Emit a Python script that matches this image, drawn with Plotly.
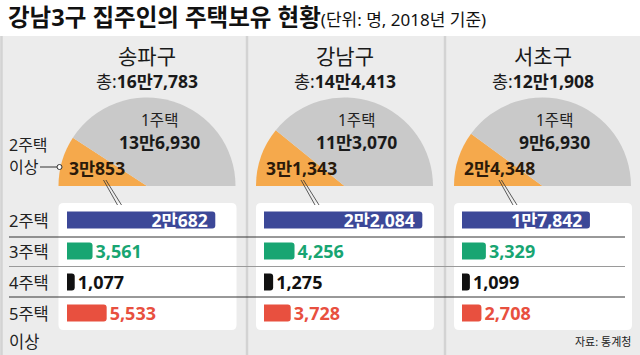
import plotly.graph_objects as go

W, H = 640, 355

# ---------------- data ----------------
districts = ["송파구", "강남구", "서초구"]
totals = [167783, 144413, 121908]
one_house = [136930, 113070, 96930]
multi_house = [30853, 31343, 24348]
row_cats = ["2주택", "3주택", "4주택", "5주택"]
two_house = [20682, 22084, 17842]
three_house = [3561, 4256, 3329]
four_house = [1077, 1275, 1099]
five_plus = [5533, 3728, 2708]

# ---------------- style ----------------
FONT = "Noto Sans, Noto Sans CJK KR"
C_ORANGE = "#f5a94c"
C_GRAY = "#c9c9c9"
C_NAVY = "#3c4898"
C_GREEN = "#18a572"
C_BLACK = "#111111"
C_RED = "#e8503f"
C_PANEL = "#ececec"
bar_colors = [C_NAVY, C_GREEN, C_BLACK, C_RED]
text_colors = ["#ffffff", C_GREEN, C_BLACK, C_RED]

centers = [147, 344.5, 542.5]   # semicircle centers (px)
R = 88.5                       # semicircle radius (px)
BASE_Y = 186                   # semicircle baseline (px)
bar_x0 = [67, 264, 462]         # bar origin (px)
XMAX = 24000
BAR_LEN = XMAX * 0.00717        # px for XMAX
ROW_TOP, ROW_H = 204.5, 31


def px(x):
    return x / W


def py(y):
    return 1 - y / H


def fmt(v):
    if v >= 10000:
        m, r = divmod(v, 10000)
        return f"{m}만{r:,}" if r else f"{m}만"
    return f"{v:,}"


fig = go.Figure()

# ---------------- semicircle pies ----------------
for i in range(3):
    cx = centers[i]
    vis = multi_house[i] + one_house[i]
    fig.add_trace(go.Pie(
        values=[multi_house[i], one_house[i], vis],
        marker=dict(colors=[C_ORANGE, C_GRAY, "rgba(0,0,0,0)"], line=dict(width=0)),
        sort=False, direction="clockwise", rotation=270,
        textinfo="none", hoverinfo="skip", showlegend=False,
        domain=dict(x=[px(cx - R), px(cx + R)], y=[py(BASE_Y + R), py(BASE_Y - R)]),
    ))

# ---------------- bars ----------------
ydom = [py(ROW_TOP + 4 * ROW_H), py(ROW_TOP)]
for i in range(3):
    vals = [two_house[i], three_house[i], four_house[i], five_plus[i]]
    sfx = "" if i == 0 else str(i + 1)
    labels = [f"<b>{fmt(v)}</b>" for v in vals]
    labels[0] = labels[0] + " "
    fig.add_trace(go.Bar(
        x=vals, y=row_cats, orientation="h",
        xaxis="x" + sfx, yaxis="y" + sfx,
        marker=dict(color=bar_colors, line=dict(width=0)),
        width=17 / ROW_H,
        text=labels,
        textposition=["inside", "outside", "outside", "outside"],
        insidetextanchor="end",
        textfont=dict(family=FONT, size=18, color=text_colors),
        insidetextfont=dict(family=FONT, size=17.5, color="#ffffff"),
        outsidetextfont=dict(family=FONT, size=18, color=text_colors),
        constraintext="none", cliponaxis=False,
        hoverinfo="skip", showlegend=False,
    ))
    x0 = bar_x0[i]
    fig.layout["xaxis" + sfx] = dict(domain=[px(x0), px(x0 + BAR_LEN)], range=[0, XMAX],
                                     visible=False, anchor="y" + sfx, fixedrange=True)
    fig.layout["yaxis" + sfx] = dict(domain=ydom, type="category", categoryorder="array",
                                     categoryarray=row_cats, range=[3.5, -0.5],
                                     visible=False, anchor="x" + sfx, fixedrange=True)

# ---------------- shapes ----------------
shapes = []
shapes.append(dict(type="rect", xref="paper", yref="paper", x0=0, x1=1, y0=py(H), y1=py(36),
                   fillcolor=C_PANEL, line=dict(width=0), layer="below"))
for xs in [1.5, 247, 445]:
    shapes.append(dict(type="line", xref="paper", yref="paper", x0=px(xs), x1=px(xs),
                       y0=py(H), y1=py(36), line=dict(color="#d3d3d3", width=2.5), layer="below"))


def rrect(x0, y0, x1, y1, r):
    X = lambda v: px(v)
    Y = lambda v: py(v)
    return (f"M {X(x0 + r)} {Y(y0)} L {X(x1 - r)} {Y(y0)} Q {X(x1)} {Y(y0)} {X(x1)} {Y(y0 + r)} "
            f"L {X(x1)} {Y(y1 - r)} Q {X(x1)} {Y(y1)} {X(x1 - r)} {Y(y1)} "
            f"L {X(x0 + r)} {Y(y1)} Q {X(x0)} {Y(y1)} {X(x0)} {Y(y1 - r)} "
            f"L {X(x0)} {Y(y0 + r)} Q {X(x0)} {Y(y0)} {X(x0 + r)} {Y(y0)} Z")


for i in range(3):
    cx = centers[i]
    shapes.append(dict(type="path", xref="paper", yref="paper",
                       path=rrect(cx - R, 203, cx + R + 1, 330, 5),
                       fillcolor="#ffffff", line=dict(width=0), layer="below"))

for y, col in [(237, "#333333"), (266.5, "#9a9a9a"), (297, "#333333")]:
    shapes.append(dict(type="line", xref="paper", yref="paper", x0=px(9), x1=px(625),
                       y0=py(y), y1=py(y), line=dict(color=col, width=1), layer="below"))

# leader lines from wedge label to 2주택 bar
for i in range(3):
    lx = centers[i] - R + 45
    for d in (0, 4):
        shapes.append(dict(type="line", xref="paper", yref="paper",
                           x0=px(lx + d * 0.6), y0=py(180), x1=px(lx + 14 + d), y1=py(205),
                           line=dict(color="#333333", width=0.8), layer="above"))

# pointer for "2주택 이상"
shapes.append(dict(type="line", xref="paper", yref="paper", x0=px(40), x1=px(57),
                   y0=py(167), y1=py(167), line=dict(color="#333333", width=1), layer="above"))
shapes.append(dict(type="circle", xref="paper", yref="paper", x0=px(57), x1=px(62),
                   y0=py(169.5), y1=py(164.5), fillcolor="#ffffff",
                   line=dict(color="#333333", width=1), layer="above"))

# ---------------- annotations ----------------
ann = []


def A(x, y, text, size, color="#222222", xanchor="center", yanchor="middle", **kw):
    ann.append(dict(x=px(x), y=py(y), xref="paper", yref="paper", text=text, showarrow=False,
                    xanchor=xanchor, yanchor=yanchor,
                    font=dict(family=FONT, size=size, color=color), **kw))


A(6, 17, "<b>강남3구 집주인의 주택보유 현황</b>"
         "<span style='font-size:17px'>(단위: 명, 2018년 기준)</span>", 23.5, "#111111", xanchor="left")

for i in range(3):
    cx = centers[i]
    A(cx, 56, districts[i], 21, "#1a1a1a")
    A(cx, 81, f"총:<b>{fmt(totals[i])}</b>", 17.5, "#1a1a1a")
    A(cx + 12, 120, "1주택", 15.5, "#222222")
    A(cx + 12, 142, f"<b>{fmt(one_house[i])}</b>", 17.5, "#1a1a1a")
    A(cx - R + 8, 168, f"<b>{fmt(multi_house[i])}</b>", 17.5, "#2a1a0a", xanchor="left")

A(7, 145, "2주택", 16, "#222222", xanchor="left")
A(7, 167, "이상", 16, "#222222", xanchor="left")

for k, c in enumerate(row_cats):
    ann.append(dict(x=px(7), xref="paper", y=c, yref="y", text=c, showarrow=False,
                    xanchor="left", yanchor="middle",
                    font=dict(family=FONT, size=16.5, color="#222222")))
A(7, 341, "이상", 16.5, "#222222", xanchor="left")

A(633, 341, "자료: 통계청", 11, "#222222", xanchor="right")

fig.update_layout(
    width=W, height=H, margin=dict(l=0, r=0, t=0, b=0, pad=0),
    paper_bgcolor="#ffffff", plot_bgcolor="rgba(0,0,0,0)",
    font=dict(family=FONT, color="#222222"),
    shapes=shapes, annotations=ann, barcornerradius=3,
    showlegend=False,
)

fig.write_html("out.html", config={"displayModeBar": False, "staticPlot": True},
               post_script="document.body.style.margin='0';document.body.style.padding='0';")
